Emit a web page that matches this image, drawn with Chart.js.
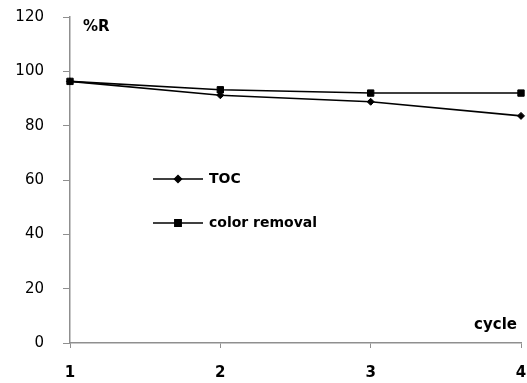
<!DOCTYPE html>
<html>
<head>
<meta charset="utf-8">
<script src="https://cdn.jsdelivr.net/npm/chart.js@4/dist/chart.umd.min.js"></script>
<style>
  html, body { margin: 0; padding: 0; background: #fff; }
  #wrap { width: 527px; height: 383px; }
</style>
</head>
<body>
<div id="wrap"><canvas id="c" width="527" height="383"></canvas></div>
<script>
/* %R vs cycle — TOC and colour removal over four reuse cycles */

const cycles = ['1', '2', '3', '4'];
const tocValues = [96.3, 91.2, 88.8, 83.6];
const colorValues = [96.3, 93.2, 92.0, 92.0];
const yTicks = [0, 20, 40, 60, 80, 100, 120];

const AXIS_GREY = '#8f8f8f';
const FONT = 'DejaVu Sans';

// little in-plot legend plus the two axis captions
const annotations = {
    id: 'annotations',
    afterDraw(chart) {
        const ctx = chart.ctx;
        ctx.save();
        ctx.fillStyle = '#000';
        ctx.strokeStyle = '#000';
        ctx.textBaseline = 'middle';

        ctx.font = `bold 15px ${FONT}`;
        ctx.textAlign = 'left';
        ctx.fillText('%R', 83, 27);
        ctx.textAlign = 'right';
        ctx.fillText('cycle', 517, 325);

        const rows = [
            { label: 'TOC', ds: chart.data.datasets[0], y: 179 },
            { label: 'color removal', ds: chart.data.datasets[1], y: 223 },
        ];
        rows.forEach((r) => {
            ctx.lineWidth = 1.5;
            ctx.beginPath();
            ctx.moveTo(153, r.y);
            ctx.lineTo(203, r.y);
            ctx.stroke();
            Chart.helpers.drawPoint(ctx, {
                pointStyle: r.ds.pointStyle, radius: r.ds.pointRadius, rotation: 0, borderWidth: 1,
            }, 178, r.y);
            ctx.textAlign = 'left';
            ctx.font = `bold 14px ${FONT}`;
            ctx.fillText(r.label, 209, r.y);
        });
        ctx.restore();
    },
};

new Chart(document.getElementById('c'), {
    type: 'line',
    data: {
        labels: cycles,
        datasets: [
            {
                label: 'TOC', data: tocValues,
                borderColor: '#000', backgroundColor: '#000', borderWidth: 1.6,
                pointStyle: 'rectRot', pointRadius: 3.5, pointBorderWidth: 1, tension: 0,
            },
            {
                label: 'color removal', data: colorValues,
                borderColor: '#000', backgroundColor: '#000', borderWidth: 1.6,
                pointStyle: 'rect', pointRadius: 4.5, pointBorderWidth: 1, tension: 0,
            },
        ],
    },
    options: {
        responsive: false, animation: false,
        layout: { padding: { top: 17, right: 6, left: 0, bottom: 0 } },
        plugins: { legend: { display: false }, tooltip: { enabled: false } },
        scales: {
            x: {
                type: 'category', offset: false,
                grid: { display: true, drawOnChartArea: false, drawTicks: true, tickLength: 5,
                        color: AXIS_GREY, offset: false },
                border: { display: true, color: AXIS_GREY, width: 1.5 },
                ticks: { color: '#000', padding: 16, maxRotation: 0,
                         font: { family: FONT, size: 15, weight: 'bold' } },
                afterFit: (s) => { s.height = 40; s.paddingLeft = 0; s.paddingRight = 0; },
            },
            y: {
                min: 0, max: 120,
                afterBuildTicks: (s) => { s.ticks = yTicks.map((v) => ({ value: v })); },
                grid: { display: true, drawOnChartArea: false, drawTicks: true, tickLength: 7,
                        color: AXIS_GREY },
                border: { display: true, color: AXIS_GREY, width: 1.5 },
                ticks: { color: '#000', padding: 19,
                         font: { family: FONT, size: 15 } },
                afterFit: (s) => { s.width = 70; s.paddingTop = 0; s.paddingBottom = 0; },
            },
        },
    },
    plugins: [annotations],
});
</script>
</body>
</html>
